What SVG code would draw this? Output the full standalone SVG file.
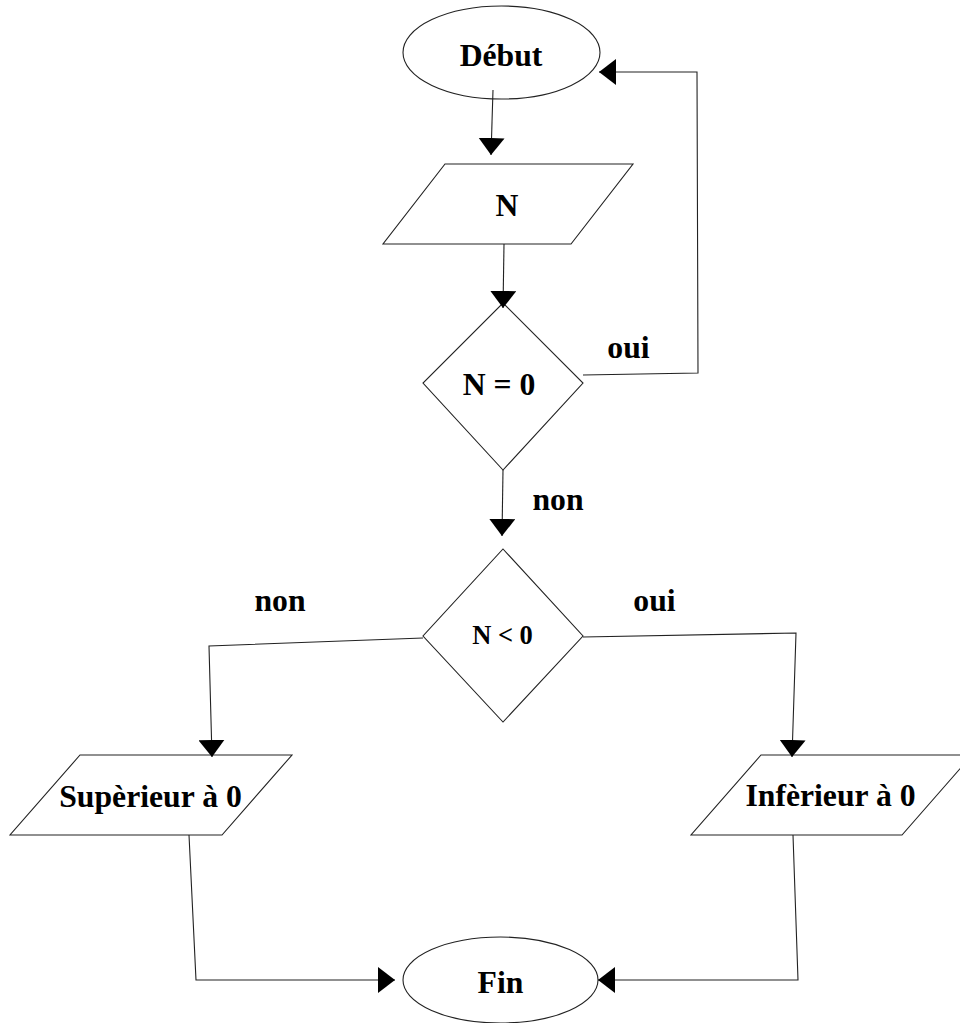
<svg xmlns="http://www.w3.org/2000/svg" width="960" height="1023" viewBox="0 0 960 1023">
<style>
.shape{fill:#fff;stroke:#222;stroke-width:1.1}
.conn{fill:none;stroke:#222;stroke-width:1.1}
.t{font-family:"Liberation Serif","Times New Roman",serif;font-weight:bold;font-size:31.7px;fill:#000;text-anchor:middle}
.s{font-size:26.5px}
</style>
<defs>
<marker id="arr" viewBox="0 0 17 26" refX="17" refY="13" markerWidth="17" markerHeight="26" markerUnits="userSpaceOnUse" orient="auto">
<path d="M0,0 L17,13 L0,26 Z" fill="#000"/>
</marker>
</defs>
<rect width="960" height="1023" fill="#fff"/>
<g id="debut">
<ellipse class="shape" cx="501.5" cy="52.5" rx="98.5" ry="46.5"/>
<text class="t" x="501" y="66">Début</text>
</g>
<g id="input-n">
<polygon class="shape" points="445,164 633,164 571,244 383,244"/>
<text class="t" x="507" y="216">N</text>
</g>
<g id="test-zero">
<polygon class="shape" points="503,303 583,383 503,470 423,383"/>
<text class="t" x="499" y="395">N = 0</text>
</g>
<g id="test-neg">
<polygon class="shape" points="503,549 583,636 503,722 423,636"/>
<text class="t s" x="502.5" y="644">N &lt; 0</text>
</g>
<g id="superieur">
<polygon class="shape" points="80,755 292,755 222,835 10,835"/>
<text class="t" x="150.5" y="807">Supèrieur à 0</text>
</g>
<g id="inferieur">
<polygon class="shape" points="761,755 972,755 902,835 691,835"/>
<text class="t" x="830.5" y="806">Infèrieur à 0</text>
</g>
<g id="fin">
<ellipse class="shape" cx="500.5" cy="980" rx="97.5" ry="43"/>
<text class="t" x="500.5" y="993">Fin</text>
</g>
<g id="connectors">
<path class="conn" d="M493,90 L491,155" marker-end="url(#arr)"/>
<path class="conn" d="M504,244 L503,308" marker-end="url(#arr)"/>
<path class="conn" d="M583,375 L698,373 L697,72 L599,72" marker-end="url(#arr)"/>
<path class="conn" d="M503,470 L502,536" marker-end="url(#arr)"/>
<path class="conn" d="M423,638 L209,646 L212,757" marker-end="url(#arr)"/>
<path class="conn" d="M583,637 L796,633 L792,757" marker-end="url(#arr)"/>
<path class="conn" d="M189,835 L196,980 L395,980" marker-end="url(#arr)"/>
<path class="conn" d="M793,835 L798,980 L598,980" marker-end="url(#arr)"/>
<text class="t" x="628.5" y="358">oui</text>
<text class="t" x="558" y="510">non</text>
<text class="t" x="280" y="611">non</text>
<text class="t" x="654.5" y="611">oui</text>
</g>
</svg>
